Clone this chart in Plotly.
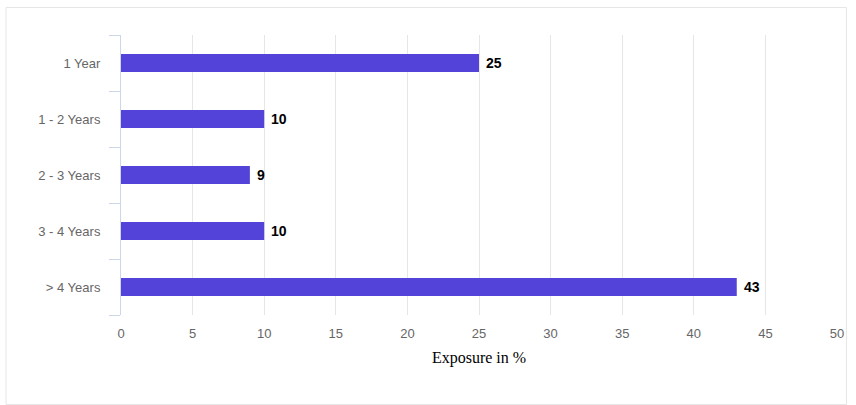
import plotly.graph_objects as go

categories = ["1 Year", "1 - 2 Years", "2 - 3 Years", "3 - 4 Years", "> 4 Years"]
values = [25, 10, 9, 10, 43]
x_ticks = [0, 5, 10, 15, 20, 25, 30, 35, 40, 45, 50]

W, H = 856, 405
L, R, T, B = 121, 16, 35, 90
pw, ph = W - L - R, H - T - B

def px_x(p):
    return (p - L) / pw

def px_y(p):
    return (H - B - p) / ph

fig = go.Figure()
fig.add_trace(go.Bar(
    x=values, y=categories, orientation="h",
    marker=dict(color="#5443D8", line=dict(width=0)),
    width=0.32, hoverinfo="skip",
))

for v, c in zip(values, categories):
    fig.add_annotation(x=v, y=c, text=f"<b>{v}</b>", showarrow=False,
                       xanchor="left", xshift=5,
                       font=dict(family="Liberation Sans, Arial", size=14, color="#000000"))

fig.add_shape(type="rect", xref="paper", yref="paper",
              x0=px_x(5.5), x1=px_x(849.5), y0=px_y(404.5), y1=px_y(7.5),
              line=dict(color="#e6e6e6", width=1), fillcolor="rgba(0,0,0,0)", layer="below")

fig.update_layout(
    width=W, height=H,
    margin=dict(l=L, r=R, t=T, b=B),
    paper_bgcolor="#ffffff", plot_bgcolor="#ffffff",
    showlegend=False,
    font=dict(family="Liberation Sans, Arial", size=13, color="#666666"),
    xaxis=dict(
        range=[0, 50], tickvals=x_ticks, ticktext=[str(t) for t in x_ticks],
        showgrid=True, gridcolor="#e6e6e6", gridwidth=1,
        zeroline=False, showline=False, ticks="",
        ticklabelstandoff=9,
        tickfont=dict(size=13, color="#666666"),
        title=dict(text="Exposure in %", font=dict(family="Liberation Serif, Times New Roman", size=16, color="#000000"), standoff=11),
    ),
    yaxis=dict(
        type="category", categoryorder="array", categoryarray=categories[::-1],
        showline=True, linecolor="#ccd6eb", linewidth=1,
        ticks="outside", tickson="boundaries", ticklen=11, tickcolor="#ccd6eb",
        ticklabelstandoff=17,
        showgrid=False, zeroline=False,
        tickfont=dict(size=13, color="#666666"),
    ),
)

fig.write_html("out.html", config={"displayModeBar": False},
               post_script="document.body.style.margin='0px';")
